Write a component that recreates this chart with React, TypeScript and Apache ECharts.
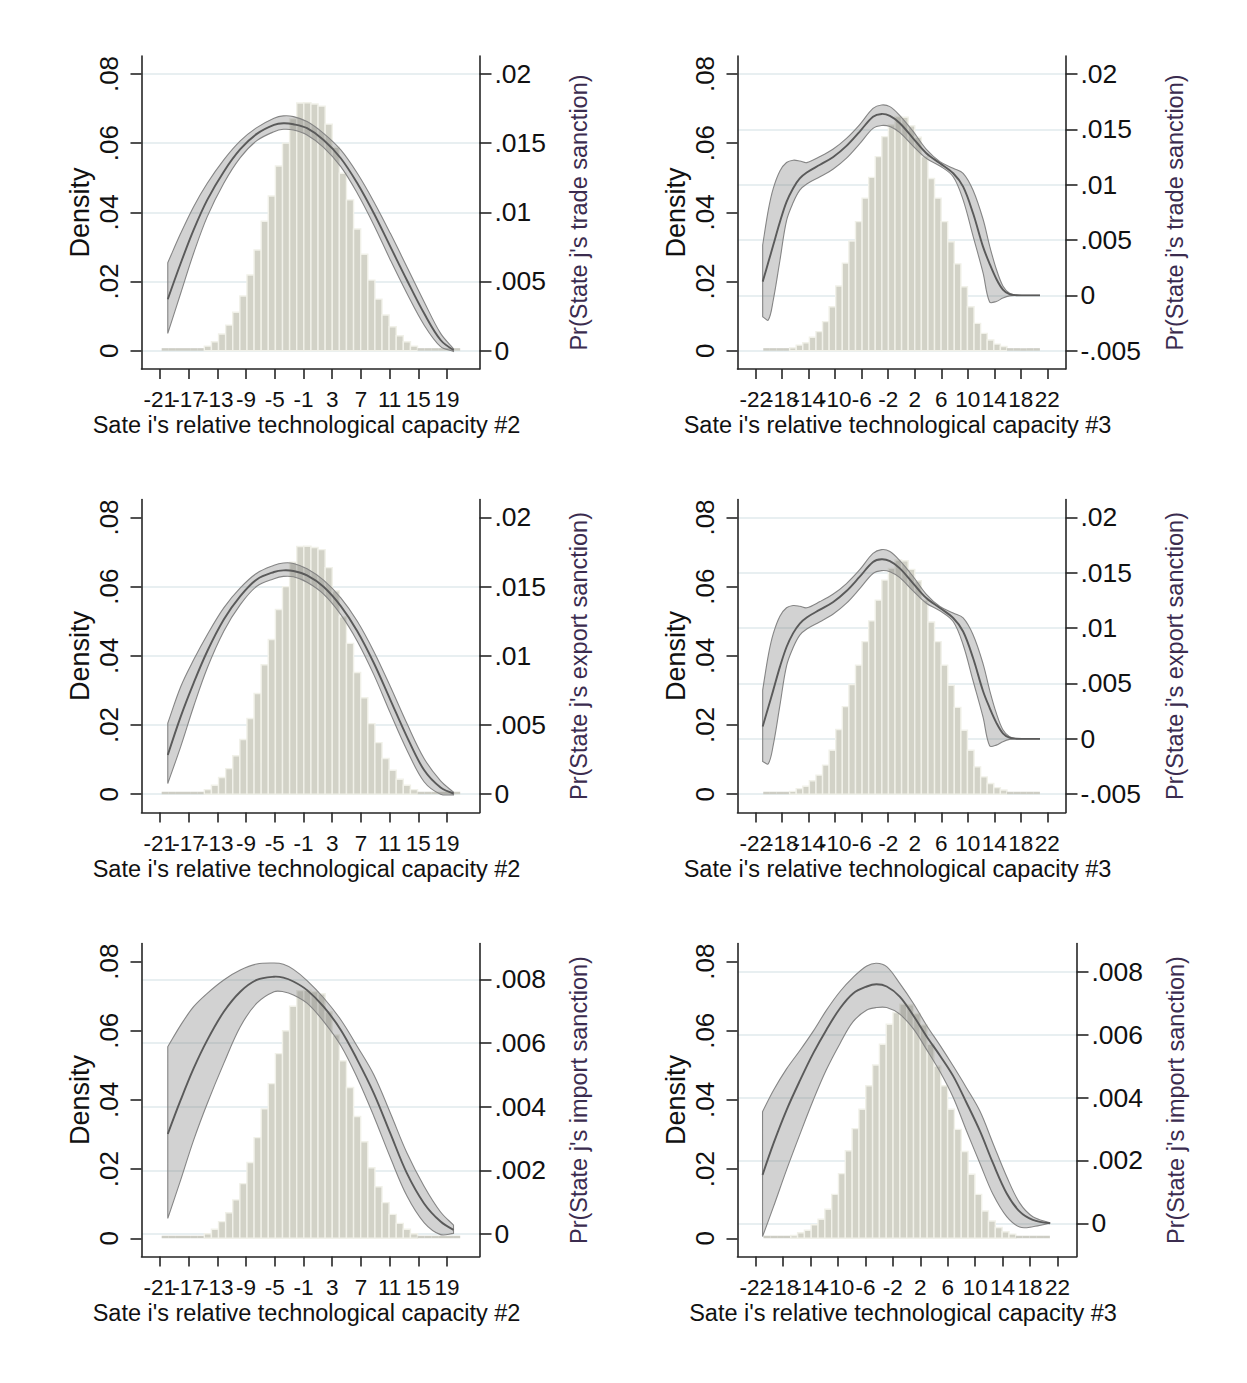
import React, { useEffect, useRef } from "react";
import * as echarts from "echarts";

const FONT = "'Liberation Sans', Arial, Helvetica, sans-serif";

// ---------- Histogram data (density per bin) ----------
const hist2Start = -20.75;
const hist2Width = 0.99;
const hist2Density = [
  0.0, 0.0, 0.0001, 0.0002, 0.0003, 0.0007, 0.0013, 0.0026, 0.0048, 0.0074,
  0.0111, 0.0158, 0.0219, 0.0291, 0.0374, 0.0447, 0.0534, 0.06, 0.0671, 0.0716,
  0.0717, 0.0713, 0.0707, 0.0655, 0.0588, 0.0513, 0.0436, 0.0352, 0.0279, 0.0204,
  0.0149, 0.0103, 0.0069, 0.0043, 0.0026, 0.0013, 0.0007, 0.0003, 0.0001, 0.0,
  0.0, 0.0,
];
const hist3Start = -20.86;
const hist3Width = 0.994;
const hist3Density = [
  0.0, 0.0001, 0.0002, 0.0004, 0.0008, 0.0016, 0.0023, 0.0039, 0.0055, 0.0084,
  0.0127, 0.0187, 0.0253, 0.0317, 0.0373, 0.0441, 0.0501, 0.0561, 0.0619, 0.0653,
  0.0677, 0.0675, 0.065, 0.0617, 0.0561, 0.0498, 0.0441, 0.0373, 0.0315, 0.0251,
  0.0185, 0.0127, 0.0079, 0.005, 0.0031, 0.0019, 0.0012, 0.0007, 0.0004, 0.0002,
  0.0001, 0.0,
];

// ---------- Tick labels ----------
const xTicks2 = [-21, -17, -13, -9, -5, -1, 3, 7, 11, 15, 19];
const xTicks3 = [-22, -18, -14, -10, -6, -2, 2, 6, 10, 14, 18, 22];
const densityTicks = [0, 0.02, 0.04, 0.06, 0.08];
const prTicks2 = [0, 0.005, 0.01, 0.015, 0.02];
const prTicks3 = [-0.005, 0, 0.005, 0.01, 0.015, 0.02];
const prTicksImport = [0, 0.002, 0.004, 0.006, 0.008];

// ---------- Titles ----------
const xTitle2 = "Sate i's relative technological capacity #2";
const xTitle3 = "Sate i's relative technological capacity #3";
const yTitleLeft = "Density";
const yTitleTrade = "Pr(State j's trade sanction)";
const yTitleExport = "Pr(State j's export sanction)";
const yTitleImport = "Pr(State j's import sanction)";

// ---------- Predicted probability curves (#2) ----------
const curveX2 = [-19.9, -18.1, -16.3, -14.4, -12.1, -9.8, -7.5, -5.1, -3.8, -2.4, -0.5, 1.8, 4.2, 6.5, 8.8, 11.1, 13.4, 15.8, 18.1, 19.9];

const tradeLine2 = [0.00372, 0.00632, 0.00873, 0.0109, 0.01294, 0.01456, 0.01567, 0.01632, 0.01644, 0.01637, 0.01608, 0.01523, 0.01391, 0.0121, 0.00993, 0.00752, 0.00511, 0.0027, 0.00077, 0.00005];
const tradeUpper2 = [0.00636, 0.00848, 0.01041, 0.0121, 0.01379, 0.01516, 0.01612, 0.0168, 0.01697, 0.01692, 0.01656, 0.01571, 0.01451, 0.01282, 0.01077, 0.00848, 0.00607, 0.00354, 0.00125, 0.00014];
const tradeLower2 = [0.00125, 0.00415, 0.00704, 0.00969, 0.0121, 0.01395, 0.01518, 0.01583, 0.016, 0.01595, 0.01559, 0.0147, 0.0133, 0.01138, 0.00909, 0.00656, 0.00415, 0.00186, 0.00029, -0.00005];

const exportLine2 = [0.00283, 0.00561, 0.00803, 0.01033, 0.01262, 0.01431, 0.01552, 0.01606, 0.01618, 0.01613, 0.01581, 0.01499, 0.01359, 0.01178, 0.00948, 0.00682, 0.00416, 0.00174, 0.00048, 0.00005];
const exportUpper2 = [0.00513, 0.00777, 0.00971, 0.01153, 0.01347, 0.01491, 0.01597, 0.01654, 0.01671, 0.01668, 0.01629, 0.01547, 0.01419, 0.0125, 0.01032, 0.00778, 0.00512, 0.00258, 0.00096, 0.00014];
const exportLower2 = [0.00077, 0.00344, 0.00634, 0.00912, 0.01178, 0.0137, 0.01503, 0.01557, 0.01574, 0.01571, 0.01532, 0.01446, 0.01298, 0.01106, 0.00864, 0.00586, 0.0032, 0.0009, 0.0, -0.00005];

const importLine2 = [0.00314, 0.00421, 0.0052, 0.00609, 0.00698, 0.00761, 0.00798, 0.00808, 0.00805, 0.00793, 0.00766, 0.00714, 0.00641, 0.00547, 0.00442, 0.00316, 0.00191, 0.00096, 0.00039, 0.00013];
const importUpper2 = [0.00588, 0.00656, 0.00714, 0.00756, 0.00798, 0.00829, 0.00848, 0.00851, 0.00847, 0.00831, 0.00796, 0.00742, 0.00673, 0.00589, 0.005, 0.0038, 0.00255, 0.0015, 0.00069, 0.00028];
const importLower2 = [0.00049, 0.0017, 0.00295, 0.0041, 0.00536, 0.00651, 0.00725, 0.00761, 0.00761, 0.00751, 0.00725, 0.00668, 0.00592, 0.0049, 0.0037, 0.0024, 0.0012, 0.00036, -0.00002, 0.00002];

// ---------- Predicted probability curves (#3) ----------
const curveX3 = [-20.95, -20.1, -19.35, -18.35, -17.35, -16.35, -15.35, -14.3, -12.3, -10.3, -8.3, -6.3, -4.3, -3.0, -1.75, -0.25, 1.75, 3.75, 5.8, 7.8, 9.3, 10.8, 12.3, 13.3, 14.3, 15.3, 16.3, 17.3, 19.0, 20.9];

const tradeLine3 = [0.00124, 0.00298, 0.00454, 0.00663, 0.00844, 0.00968, 0.01056, 0.0111, 0.0118, 0.0125, 0.0135, 0.0148, 0.01614, 0.01639, 0.01621, 0.01555, 0.01419, 0.01284, 0.01193, 0.01103, 0.00982, 0.00741, 0.0044, 0.00285, 0.0015, 0.00052, 0.0001, 0.00001, 0.0, 0.0];
const tradeUpper3 = [0.00455, 0.0077, 0.00966, 0.01124, 0.012, 0.01221, 0.01214, 0.01199, 0.01254, 0.01322, 0.01418, 0.01543, 0.01689, 0.0172, 0.01705, 0.01624, 0.01481, 0.01319, 0.01208, 0.01148, 0.01103, 0.0095, 0.0069, 0.00447, 0.00238, 0.00085, 0.0002, 0.00003, 0.0, 0.0];
const tradeLower3 = [-0.00193, -0.00223, -0.00042, 0.00315, 0.00675, 0.00838, 0.0095, 0.01006, 0.01071, 0.01142, 0.0124, 0.01371, 0.01509, 0.01535, 0.01525, 0.0147, 0.01349, 0.01237, 0.01169, 0.01072, 0.00862, 0.00535, 0.00205, -0.0006, -0.00055, -0.00025, -0.00005, 0.0, 0.0, 0.0];

const exportLine3 = [0.00111, 0.00285, 0.0044, 0.0065, 0.0083, 0.00955, 0.01042, 0.01097, 0.01167, 0.01237, 0.01336, 0.01465, 0.01598, 0.01622, 0.01605, 0.0154, 0.01405, 0.01272, 0.01182, 0.01092, 0.0097, 0.0073, 0.00432, 0.0028, 0.00147, 0.0005, 0.0001, 0.00001, 0.0, 0.0];
const exportUpper3 = [0.0044, 0.00755, 0.0095, 0.01108, 0.01184, 0.01205, 0.01198, 0.01184, 0.0124, 0.01308, 0.01403, 0.01528, 0.01675, 0.0171, 0.01693, 0.0161, 0.01467, 0.01306, 0.01196, 0.01136, 0.01092, 0.0094, 0.0068, 0.0044, 0.00234, 0.00083, 0.0002, 0.00003, 0.0, 0.0];
const exportLower3 = [-0.00205, -0.00225, -0.00055, 0.00302, 0.0066, 0.00825, 0.00937, 0.00993, 0.01058, 0.01128, 0.01226, 0.01357, 0.01494, 0.0152, 0.0151, 0.01456, 0.01336, 0.01225, 0.01157, 0.0106, 0.0085, 0.00525, 0.00198, -0.00062, -0.00057, -0.00026, -0.00005, 0.0, 0.0, 0.0];

const curveX3I = [-21.0, -19.4, -17.5, -15.5, -13.6, -11.7, -9.7, -7.8, -5.8, -4.4, -2.9, -1.0, 1.0, 2.9, 4.9, 6.8, 8.7, 10.7, 12.6, 14.6, 16.5, 18.4, 20.9];
const importLine3 = [0.00154, 0.00254, 0.0036, 0.00456, 0.00541, 0.00615, 0.00684, 0.00731, 0.00753, 0.0076, 0.00753, 0.00721, 0.0066, 0.00595, 0.00532, 0.00468, 0.00385, 0.00293, 0.00191, 0.00095, 0.00037, 0.00011, 0.0];
const importUpper3 = [0.00355, 0.00423, 0.00491, 0.00551, 0.00611, 0.00677, 0.00737, 0.00782, 0.00818, 0.00827, 0.00816, 0.00763, 0.00699, 0.0063, 0.00565, 0.005, 0.00432, 0.00356, 0.00254, 0.00148, 0.00064, 0.00021, 0.00002];
const importLower3 = [-0.00042, 0.00053, 0.0017, 0.00286, 0.00392, 0.00488, 0.00572, 0.00641, 0.00678, 0.00686, 0.00686, 0.00665, 0.00618, 0.00553, 0.00481, 0.004, 0.00296, 0.0019, 0.00092, 0.00021, -0.00012, -0.00011, 0.0];

// ---------- Styling ----------
const AXIS_COLOR = "#262626";
const TEXT_COLOR = "#111111";
const RTITLE_COLOR = "#3b2c4f";
const GRID_COLOR = "#e1eaed";
const BAR_FILL = "#d2d2c7";
const BAR_EDGE = "#f1f1e9";
const BAND_FILL = "rgba(115,115,115,0.32)";
const BAND_EDGE = "#858585";
const LINE_COLOR = "#5a5a5a";
const SMOOTH = 0.35;

const fmt = (v: number) => {
  if (Math.abs(v) < 1e-12) return "0";
  const s = String(+v.toFixed(6));
  return s.replace(/^(-?)0\./, "$1.");
};

type Panel = {
  left: number; top: number; width: number; height: number;
  xMin: number; xMax: number; xTicks: number[]; xTitle: string;
  hStart: number; hWidth: number; hist: number[];
  rMin: number; rMax: number; rTicks: number[]; gridTicks: number[];
  rTitle: string; rGap: number;
  cx: number[]; line: number[]; up: number[]; lo: number[];
};

const ROW_TOPS = [56, 499.5, 943.6];
const PH = 313;

const panels: Panel[] = [
  {
    left: 141.5, top: ROW_TOPS[0], width: 338, height: PH,
    xMin: -23.56, xMax: 23.52, xTicks: xTicks2, xTitle: xTitle2,
    hStart: hist2Start, hWidth: hist2Width, hist: hist2Density,
    rMin: -0.001325, rMax: 0.0213, rTicks: prTicks2, gridTicks: prTicks2,
    rTitle: yTitleTrade, rGap: 87,
    cx: curveX2, line: tradeLine2, up: tradeUpper2, lo: tradeLower2,
  },
  {
    left: 737.5, top: ROW_TOPS[0], width: 328, height: PH,
    xMin: -24.75, xMax: 24.75, xTicks: xTicks3, xTitle: xTitle3,
    hStart: hist3Start, hWidth: hist3Width, hist: hist3Density,
    rMin: -0.006656, rMax: 0.021625, rTicks: prTicks3, gridTicks: prTicks3,
    rTitle: yTitleTrade, rGap: 97.5,
    cx: curveX3, line: tradeLine3, up: tradeUpper3, lo: tradeLower3,
  },
  {
    left: 141.5, top: ROW_TOPS[1], width: 338, height: PH,
    xMin: -23.56, xMax: 23.52, xTicks: xTicks2, xTitle: xTitle2,
    hStart: hist2Start, hWidth: hist2Width, hist: hist2Density,
    rMin: -0.001325, rMax: 0.0213, rTicks: prTicks2, gridTicks: [0, 0.005, 0.01, 0.015],
    rTitle: yTitleExport, rGap: 87,
    cx: curveX2, line: exportLine2, up: exportUpper2, lo: exportLower2,
  },
  {
    left: 737.5, top: ROW_TOPS[1], width: 328, height: PH,
    xMin: -24.75, xMax: 24.75, xTicks: xTicks3, xTitle: xTitle3,
    hStart: hist3Start, hWidth: hist3Width, hist: hist3Density,
    rMin: -0.006656, rMax: 0.021625, rTicks: prTicks3, gridTicks: prTicks3,
    rTitle: yTitleExport, rGap: 97.5,
    cx: curveX3, line: exportLine3, up: exportUpper3, lo: exportLower3,
  },
  {
    left: 141.5, top: ROW_TOPS[2], width: 338, height: PH,
    xMin: -23.56, xMax: 23.52, xTicks: xTicks2, xTitle: xTitle2,
    hStart: hist2Start, hWidth: hist2Width, hist: hist2Density,
    rMin: -0.00071, rMax: 0.009121, rTicks: prTicksImport, gridTicks: prTicksImport,
    rTitle: yTitleImport, rGap: 87,
    cx: curveX2, line: importLine2, up: importUpper2, lo: importLower2,
  },
  {
    left: 737.5, top: ROW_TOPS[2], width: 339, height: PH,
    xMin: -24.65, xMax: 24.77, xTicks: xTicks3, xTitle: xTitle3,
    hStart: hist3Start, hWidth: hist3Width, hist: hist3Density,
    rMin: -0.001059, rMax: 0.008894, rTicks: prTicksImport, gridTicks: prTicksImport,
    rTitle: yTitleImport, rGap: 87,
    cx: curveX3I, line: importLine3, up: importUpper3, lo: importLower3,
  },
];

const renderBar = (params: any, api: any) => {
  const x0 = api.value(0);
  const x1 = api.value(1);
  const h = api.value(2);
  const pTop = api.coord([x0, h]);
  const pBot = api.coord([x1, 0]);
  let y = pTop[1];
  let height = pBot[1] - pTop[1];
  const thin = height < 2.5;
  if (thin) {
    height = 2.5;
    y = pBot[1] - 2.5;
  }
  return {
    type: "rect",
    shape: { x: pTop[0], y, width: pBot[0] - pTop[0], height },
    style: thin
      ? { fill: "#cdcdc4" }
      : { fill: BAR_FILL, stroke: BAR_EDGE, lineWidth: 1.4 },
  };
};

// CI band + fitted line drawn from the panel's arrays through the axis scales
const makeCurveRenderer = (p: Panel) => (params: any, api: any) => {
  if (params.dataIndex !== 0) return null;
  const U = p.cx.map((x, k) => api.coord([x, p.up[k]]));
  const L = p.cx.map((x, k) => api.coord([x, p.lo[k]]));
  const M = p.cx.map((x, k) => api.coord([x, p.line[k]]));
  const n = U.length;
  const poly: number[][] = [U[0]];
  for (let k = 0; k < n; k++) poly.push(U[k]);
  poly.push(U[n - 1]);
  poly.push(L[n - 1]);
  for (let k = n - 1; k >= 0; k--) poly.push(L[k]);
  poly.push(L[0]);
  return {
    type: "group",
    children: [
      {
        type: "polygon",
        shape: { points: poly, smooth: SMOOTH },
        style: { fill: BAND_FILL, stroke: BAND_EDGE, lineWidth: 1.1 },
      },
      {
        type: "polyline",
        shape: { points: M, smooth: SMOOTH },
        style: { fill: "none", stroke: LINE_COLOR, lineWidth: 1.9 },
      },
    ],
  };
};

const evenOf = (a: number[]) => a.filter((_, k) => k % 2 === 0);
const oddOf = (a: number[]) => a.filter((_, k) => k % 2 === 1);

function buildOption() {
  const grid: any[] = [];
  const xAxis: any[] = [];
  const yAxis: any[] = [];
  const series: any[] = [];

  const xLabelBase = {
    fontSize: 22.5, color: TEXT_COLOR, margin: 19, fontFamily: FONT,
    showMinLabel: true, showMaxLabel: true, hideOverlap: false,
    formatter: (v: number) => String(v),
  };

  panels.forEach((p, i) => {
    grid.push({
      left: p.left, top: p.top, width: p.width, height: p.height,
      containLabel: false, outerBoundsMode: "none",
    });
    // main x axis: line, all ticks, every other label, title
    xAxis.push({
      type: "value", gridIndex: i, position: "bottom", min: p.xMin, max: p.xMax,
      axisLine: { show: true, onZero: false, lineStyle: { color: AXIS_COLOR, width: 1.6 } },
      axisTick: { show: true, length: 10, customValues: p.xTicks, lineStyle: { color: AXIS_COLOR, width: 1.6 } },
      axisLabel: { ...xLabelBase, customValues: evenOf(p.xTicks) },
      splitLine: { show: false },
      name: p.xTitle, nameLocation: "middle", nameGap: 44, nameMoveOverlap: false,
      nameTextStyle: { fontSize: 23.5, color: TEXT_COLOR, fontFamily: FONT, padding: [0, 8, 0, 0] },
    });
    // companion x axis carrying the remaining (tightly packed) tick labels
    xAxis.push({
      type: "value", gridIndex: i, position: "bottom", min: p.xMin, max: p.xMax,
      axisLine: { show: false, onZero: false },
      axisTick: { show: false, customValues: oddOf(p.xTicks) },
      axisLabel: { ...xLabelBase, customValues: oddOf(p.xTicks) },
      splitLine: { show: false },
    });
    // left density axis
    yAxis.push({
      type: "value", gridIndex: i, position: "left", min: -0.0053, max: 0.0852,
      axisLine: { show: true, onZero: false, lineStyle: { color: AXIS_COLOR, width: 1.6 } },
      axisTick: { show: true, length: 11, customValues: densityTicks, lineStyle: { color: AXIS_COLOR, width: 1.6 } },
      axisLabel: {
        customValues: densityTicks, rotate: 90, fontSize: 26, color: TEXT_COLOR, margin: 19.5, fontFamily: FONT,
        showMinLabel: true, showMaxLabel: true, hideOverlap: false, formatter: fmt,
      },
      splitLine: { show: false },
      name: yTitleLeft, nameLocation: "middle", nameGap: 48, nameMoveOverlap: false,
      nameTextStyle: { fontSize: 27, color: TEXT_COLOR, fontFamily: FONT },
    });
    // right probability axis
    yAxis.push({
      type: "value", gridIndex: i, position: "right", min: p.rMin, max: p.rMax,
      axisLine: { show: true, onZero: false, lineStyle: { color: AXIS_COLOR, width: 1.6 } },
      axisTick: { show: true, length: 12, customValues: p.rTicks, lineStyle: { color: AXIS_COLOR, width: 1.6 } },
      axisLabel: {
        customValues: p.rTicks, fontSize: 26.5, color: TEXT_COLOR, margin: 15, fontFamily: FONT,
        showMinLabel: true, showMaxLabel: true, hideOverlap: false, formatter: fmt,
      },
      splitLine: { show: false },
      name: p.rTitle, nameLocation: "middle", nameGap: p.rGap, nameRotate: 90, nameMoveOverlap: false,
      nameTextStyle: { fontSize: 23.5, color: RTITLE_COLOR, fontFamily: FONT },
    });
    // hidden axis carrying the horizontal grid lines
    yAxis.push({
      type: "value", gridIndex: i, position: "right", min: p.rMin, max: p.rMax,
      axisLine: { show: false, onZero: false },
      axisTick: { show: false, customValues: p.gridTicks },
      axisLabel: { show: false, customValues: p.gridTicks },
      splitLine: { show: true, lineStyle: { color: GRID_COLOR, width: 1.6 } },
    });

    const barData = p.hist.map((h, k) => [p.hStart + k * p.hWidth, p.hStart + (k + 1) * p.hWidth, h]);
    series.push({
      type: "custom", xAxisIndex: 2 * i, yAxisIndex: 3 * i, renderItem: renderBar,
      data: barData, encode: { x: [0, 1], y: 2 }, silent: true, z: 2, clip: true,
    });
    series.push({
      type: "custom", xAxisIndex: 2 * i, yAxisIndex: 3 * i + 1,
      renderItem: makeCurveRenderer(p),
      data: p.cx.map((x, k) => [x, p.lo[k], p.up[k]]),
      encode: { x: 0, y: [1, 2] }, silent: true, z: 3,
    });
  });

  return {
    animation: false,
    backgroundColor: "#ffffff",
    textStyle: { fontFamily: FONT },
    grid, xAxis, yAxis, series,
  };
}

export default function App() {
  const ref = useRef<HTMLDivElement>(null);
  useEffect(() => {
    if (!ref.current) return;
    const chart = echarts.init(ref.current, null, { renderer: "svg" });
    chart.setOption(buildOption() as any);
    return () => chart.dispose();
  }, []);
  return (
    <div
      ref={ref}
      style={{ position: "absolute", left: 0, top: 0, width: 1247, height: 1383, background: "#ffffff" }}
    />
  );
}
